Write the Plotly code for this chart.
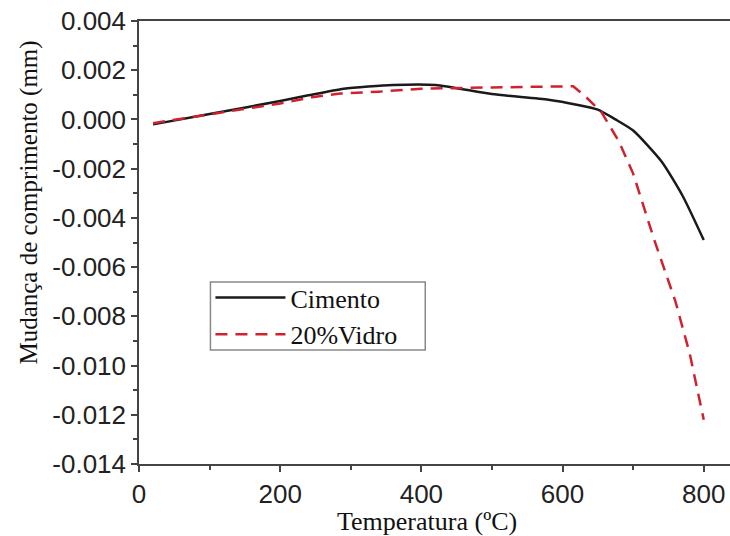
import plotly.graph_objects as go

# Data
temp_cimento = [20, 100, 200, 240, 290, 360, 420, 500, 580, 620, 650, 675, 700, 740, 770, 800]
cimento = [-0.0002, 0.00022, 0.00075, 0.00098, 0.00125, 0.0014, 0.0014, 0.00103, 0.0008, 0.0006,
           0.0004, 0.0, -0.00045, -0.0017, -0.0031, -0.0049]

temp_vidro = [20, 100, 200, 245, 285, 340, 400, 500, 600, 615, 630, 655, 680, 700, 730, 760, 780, 800]
vidro = [-0.00015, 0.0002, 0.00065, 0.0009, 0.00105, 0.00113, 0.00125, 0.0013, 0.00137, 0.00135,
         0.001, 0.0003, -0.0009, -0.0022, -0.0049, -0.0074, -0.0095, -0.0122]

x_ticks = [0, 200, 400, 600, 800]
y_ticks = [0.004, 0.002, 0.0, -0.002, -0.004, -0.006, -0.008, -0.010, -0.012, -0.014]
y_tick_labels = ["0.004", "0.002", "0.000", "-0.002", "-0.004", "-0.006", "-0.008", "-0.010", "-0.012", "-0.014"]

serif = "Liberation Serif, Times New Roman, serif"
sans = "Liberation Sans, Arial, sans-serif"

L, R, T, B = 138.5, 730, 21, 464
PW, PH = R - L, B - T


def px(xp):
    return (xp - L) / PW


def py(yp):
    return (B - yp) / PH


fig = go.Figure()
fig.add_trace(go.Scatter(x=temp_cimento, y=cimento, mode="lines", name="Cimento",
                         line=dict(color="#1a1a1a", width=2.5, shape="spline", smoothing=0.6)))
fig.add_trace(go.Scatter(x=temp_vidro, y=vidro, mode="lines", name="20%Vidro",
                         line=dict(color="#d0222e", width=2.5, dash="12px,8px")))

axis_common = dict(showline=True, linecolor="#444", linewidth=1.5, ticks="outside",
                   tickcolor="#444", tickwidth=1.5, ticklen=6, showgrid=False, zeroline=False,
                   tickfont=dict(family=sans, size=26, color="#222"))

fig.update_layout(
    width=730, height=536,
    margin=dict(l=L, r=0, t=T, b=536 - B),
    paper_bgcolor="white", plot_bgcolor="white",
    xaxis=dict(range=[0, 837.2], tickvals=x_ticks, mirror=True,
               minor=dict(dtick=100, ticks="outside", ticklen=4, tickcolor="#444", tickwidth=1.5),
               **axis_common),
    yaxis=dict(range=[-0.014, 0.004], tickvals=y_ticks, ticktext=y_tick_labels,
               minor=dict(dtick=0.001, ticks="outside", ticklen=4, tickcolor="#444", tickwidth=1.5),
               **axis_common),
    legend=dict(x=px(210), y=py(274), xanchor="left", yanchor="top",
                bgcolor="rgba(0,0,0,0)", borderwidth=0,
                font=dict(family=serif, size=26, color="#111"), itemwidth=70,
                tracegroupgap=0),
    showlegend=True,
    shapes=[dict(type="rect", xref="paper", yref="paper", x0=px(210), x1=px(425),
                 y0=py(350), y1=py(282), line=dict(color="#888", width=1.5),
                 fillcolor="white", layer="above")],
)

fig.add_annotation(text="Mudança de comprimento (mm)", xref="paper", yref="paper",
                   x=px(28), y=py(203), showarrow=False, textangle=-90,
                   font=dict(family=serif, size=25, color="#111"), xanchor="center", yanchor="middle")
fig.add_annotation(text="Temperatura (ºC)", xref="paper", yref="paper",
                   x=px(427), y=py(521), showarrow=False,
                   font=dict(family=serif, size=26, color="#111"), xanchor="center", yanchor="middle")

fig.write_html("out.html")
